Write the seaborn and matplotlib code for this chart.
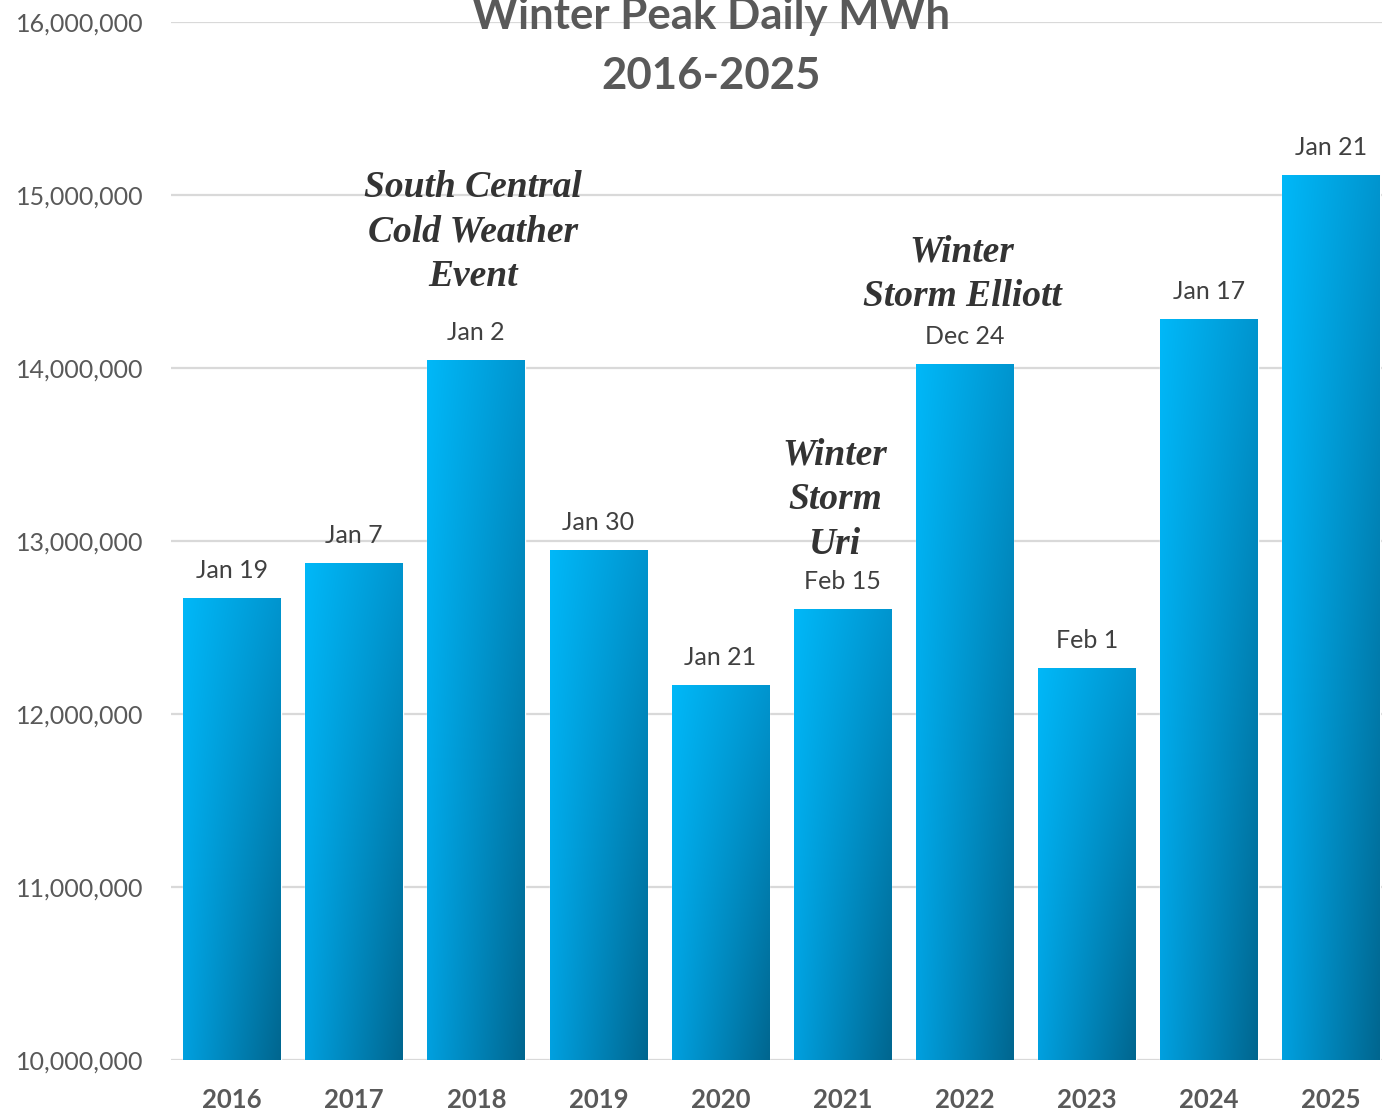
import numpy as np
import pandas as pd
import matplotlib
matplotlib.use("Agg")
from matplotlib import pyplot as plt
from matplotlib.ticker import FuncFormatter
import seaborn as sns

# chart data
years = ["2016", "2017", "2018", "2019", "2020", "2021", "2022", "2023", "2024", "2025"]
peak_mwh = [12671000, 12873000, 14046000, 12948000, 12168000,
            12607000, 14023000, 12266000, 14283000, 15116000]
peak_dates = ["Jan 19", "Jan 7", "Jan 2", "Jan 30", "Jan 21",
              "Feb 15", "Dec 24", "Feb 1", "Jan 17", "Jan 21"]
events = ["South Central\nCold Weather\nEvent", "Winter\nStorm\nUri", "Winter\nStorm Elliott"]
event_x = [1.97, 4.94, 5.98]
event_y = [14786000, 13237000, 14540000]

Y_MIN, Y_MAX = 10000000, 16000000

sns.set_theme(style="white")
plt.rcParams['font.family'] = ['Lato', 'DejaVu Sans']

df = pd.DataFrame({"Year": years, "MWh": peak_mwh})

fig = plt.figure(figsize=(13.82, 11.10), dpi=100)
ax = fig.add_axes([171 / 1382, 50 / 1110, 1221 / 1382, 1038 / 1110])

sns.barplot(data=df, x="Year", y="MWh", color="#0099d6", width=0.8, ax=ax, zorder=2)

# per-bar diagonal gradient (light cyan top-left -> dark blue bottom-right)
c_tl = np.array([0x00, 0xB8, 0xF8]) / 255
c_tr = np.array([0x00, 0x95, 0xCF]) / 255
c_bl = np.array([0x00, 0xA0, 0xDF]) / 255
c_br = np.array([0x00, 0x66, 0x8F]) / 255
u = np.linspace(0, 1, 64)[None, :, None]
v = np.linspace(0, 1, 256)[:, None, None]
grad = (c_tl * (1 - u) * (1 - v) + c_tr * u * (1 - v)
        + c_bl * (1 - u) * v + c_br * u * v)

for patch in ax.patches:
    x0 = patch.get_x()
    w = patch.get_width()
    top = patch.get_y() + patch.get_height()
    im = ax.imshow(grad, extent=[x0, x0 + w, Y_MIN, top], origin="upper",
                   aspect="auto", zorder=3, interpolation="bilinear")
    im.set_clip_path(patch)
ax.set_ylim(Y_MIN, Y_MAX)
ax.set_xlim(-0.5, 9.5)

# data labels
for i, (val, lab) in enumerate(zip(peak_mwh, peak_dates)):
    ax.annotate(lab, (i, val), xytext=(0, 20), textcoords="offset points",
                ha="center", va="center", fontsize=18, color="#404040", zorder=5)

# event notes
for txt, x, y in zip(events, event_x, event_y):
    ax.text(x, y, txt, ha="center", va="center", fontsize=27, color="#333333",
            family="Liberation Serif", fontweight="bold", fontstyle="italic",
            linespacing=1.36, zorder=5)

ax.yaxis.set_major_locator(plt.MultipleLocator(1000000))
ax.yaxis.set_major_formatter(FuncFormatter(lambda v, p: f"{v:,.0f}"))
ax.grid(axis="y", color="#d9d9d9", linewidth=1.6, zorder=0)
ax.set_axisbelow(True)
for s in ax.spines.values():
    s.set_visible(False)
ax.tick_params(axis="y", labelsize=18, labelcolor="#595959", length=0, pad=20)
ax.tick_params(axis="x", labelsize=18.5, labelcolor="#595959", length=0, pad=20)
for t in ax.get_xticklabels():
    t.set_fontweight("bold")
ax.set_xlabel("")
ax.set_ylabel("")

fig.text(711 / 1382, 1 - 46 / 1110, "Winter Peak Daily MWh\n2016-2025", ha="center", va="center",
         fontsize=31.5, fontweight="bold", color="#595959", linespacing=1.58)

fig.savefig("out.png", dpi=100)
